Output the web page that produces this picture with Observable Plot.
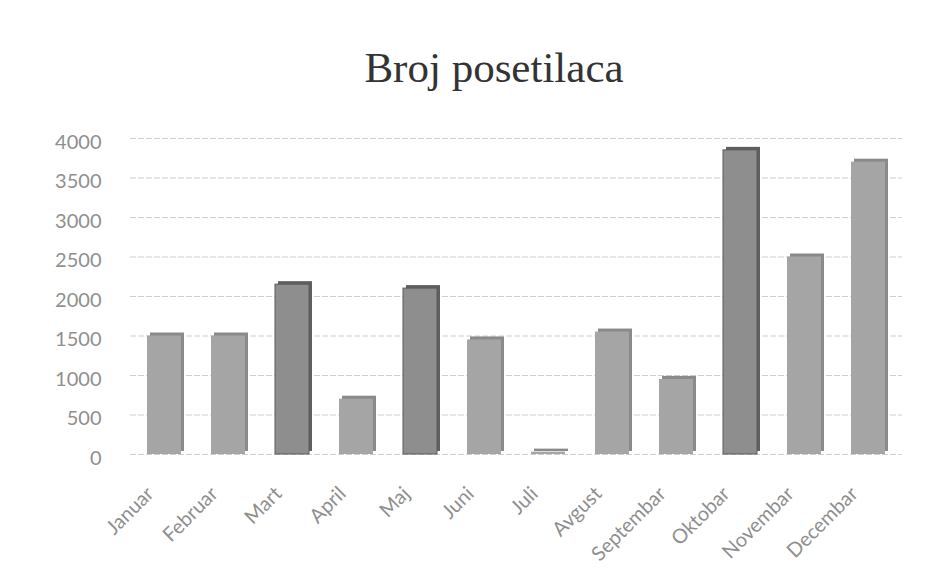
<!DOCTYPE html>
<html><head><meta charset="utf-8">
<script src="https://cdn.jsdelivr.net/npm/d3@7"></script>
<script src="https://cdn.jsdelivr.net/npm/@observablehq/plot@0.6"></script>
<style>
body{margin:0;background:#fff;width:946px;height:574px;overflow:hidden}
#title{height:105px;box-sizing:border-box;padding-top:46px;text-align:center;font-family:"Liberation Serif","DejaVu Serif",serif;font-size:43px;color:#333;padding-left:42px;line-height:1}
</style></head><body>
<div id="title">Broj posetilaca</div>
<div id="chart"></div>
<script>
const months = ["Januar","Februar","Mart","April","Maj","Juni","Juli","Avgust","Septembar","Oktobar","Novembar","Decembar"];
const visitors = [1500,1500,2150,700,2100,1450,30,1550,950,3850,2500,3700];
const darkMonths = ["Mart","Maj","Oktobar"];
const yTicks = [0,500,1000,1500,2000,2500,3000,3500,4000];

const data = months.map((m,i)=>({month:m, value:visitors[i], dark:darkMonths.includes(m)}));

const chart = Plot.plot({
  width:946, height:469,
  marginTop:33, marginBottom:120, marginLeft:130, marginRight:44,
  style:{fontFamily:"Lato, 'Open Sans', sans-serif", color:"#8f8f8f", background:"#fff"},
  x:{domain:months, paddingInner:0.47, paddingOuter:0.235, label:null},
  y:{domain:[0,4000], ticks:yTicks, label:null},
  marks:[
    Plot.gridY(yTicks,{stroke:"#cfcfcf", strokeOpacity:1, strokeDasharray:"6,2"}),
    Plot.axisY({ticks:yTicks, tickSize:0, tickPadding:29, fontSize:20, dy:4, label:null, tickFormat:d=>String(d)}),
    Plot.axisX({tickSize:0, tickRotate:-45, fontSize:20, tickPadding:36, dx:-14, label:null}),
    Plot.barY(data,{x:"month", y:"value", fill:d=>d.dark?"#5f5f5f":"#8a8a8a", dx:3, dy:-3}),
    Plot.barY(data,{x:"month", y:"value", fill:d=>d.dark?"#8e8e8e":"#a5a5a5", stroke:d=>d.dark?"#5a5a5a":"none", strokeWidth:1})
  ]
});
document.getElementById("chart").appendChild(chart);
</script>
</body></html>
